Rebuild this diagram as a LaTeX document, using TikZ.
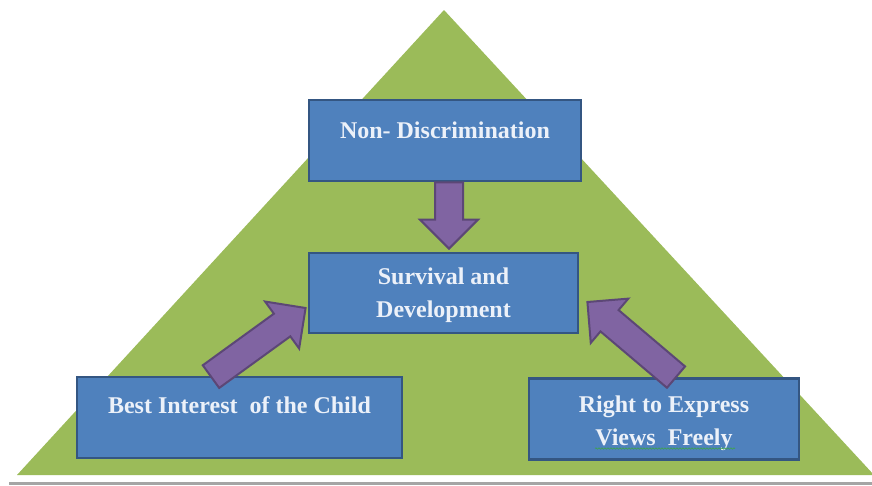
\documentclass[tikz,border=0pt]{standalone}
\usepackage{fontspec}
\setmainfont{Liberation Serif}
\usetikzlibrary{calc,positioning,decorations.pathmorphing}
\definecolor{leaf}{RGB}{155,187,89}
\definecolor{boxfill}{RGB}{79,129,189}
\definecolor{boxline}{RGB}{52,86,130}
\definecolor{plum}{RGB}{128,100,162}
\definecolor{plumline}{RGB}{92,71,118}
\definecolor{paper}{RGB}{236,241,249}
\definecolor{rule}{RGB}{165,165,165}
\definecolor{squiggle}{RGB}{60,165,70}
\tikzset{
  % Kästen
  box/.style={rectangle, fill=boxfill, draw=boxline, line width=2.8pt,
    text=paper, font=\fontsize{24}{33}\selectfont\bfseries, align=center,
    inner sep=0pt},
  % breite Pfeile
  fat/.style={fill=plum, draw=plumline, line width=2pt, line join=miter},
}
% breiter Pfeil von #1 (Ende) nach #2 (Spitze)
\newcommand{\fatarrow}[2]{%
  \coordinate (neck) at ($(#2)!29pt!(#1)$);
  \draw[fat] ($(#1)!14pt!90:(#2)$) -- ($(neck)!14pt!-90:(#1)$)
    -- ($(neck)!29pt!-90:(#1)$) -- (#2) -- ($(neck)!29pt!90:(#1)$)
    -- ($(neck)!14pt!90:(#1)$) -- ($(#1)!14pt!-90:(#2)$) -- cycle;}

\begin{document}
\begin{tikzpicture}[x=1pt, y=-1pt]
  \useasboundingbox (0,0) rectangle (872,485);
  % Dreieck und Grundlinie
  \fill[leaf] (444,10) -- (874,475) -- (17,475) -- cycle;
  \draw[rule, line width=2.5pt] (9,483.5) -- (872,483.5);
  % Kästen
  \node[box, minimum width=272, minimum height=81, text height=16pt, text depth=21pt]
    (nondisc) at (445,140.5) {Non- Discrimination};
  \node[box, minimum width=269, minimum height=80, text height=52pt, text depth=4pt]
    (survival) at (443.5,293) {Survival and\\Development};
  \node[box, minimum width=325, minimum height=81, text height=16pt, text depth=25pt]
    (best) at (239.5,417.5) {Best Interest \ of the Child};
  \node[box, minimum width=270, minimum height=81, text height=56pt, text depth=4pt]
    (express) at (664,419) {Right to Express\\Views \ Freely};
  \draw[squiggle, line width=0.6pt, decorate,
    decoration={snake, amplitude=0.7pt, segment length=3pt}]
    ($(express.center)+(-69,29.5)$) -- +(140,0);
  % Pfeile
  \coordinate (downtail) at ($(nondisc.south)+(4,0)$);
  \coordinate (downtip) at ($(survival.north)+(5.5,-3)$);
  \coordinate (lefttail) at ($(best.north)+(-28.5,1)$);
  \coordinate (lefttip) at ($(survival.west)+(-2,15)$);
  \coordinate (righttail) at ($(express.north)+(12,0)$);
  \coordinate (righttip) at ($(survival.east)+(8,9)$);
  \fatarrow{downtail}{downtip}
  \fatarrow{lefttail}{lefttip}
  \fatarrow{righttail}{righttip}
\end{tikzpicture}
\end{document}
